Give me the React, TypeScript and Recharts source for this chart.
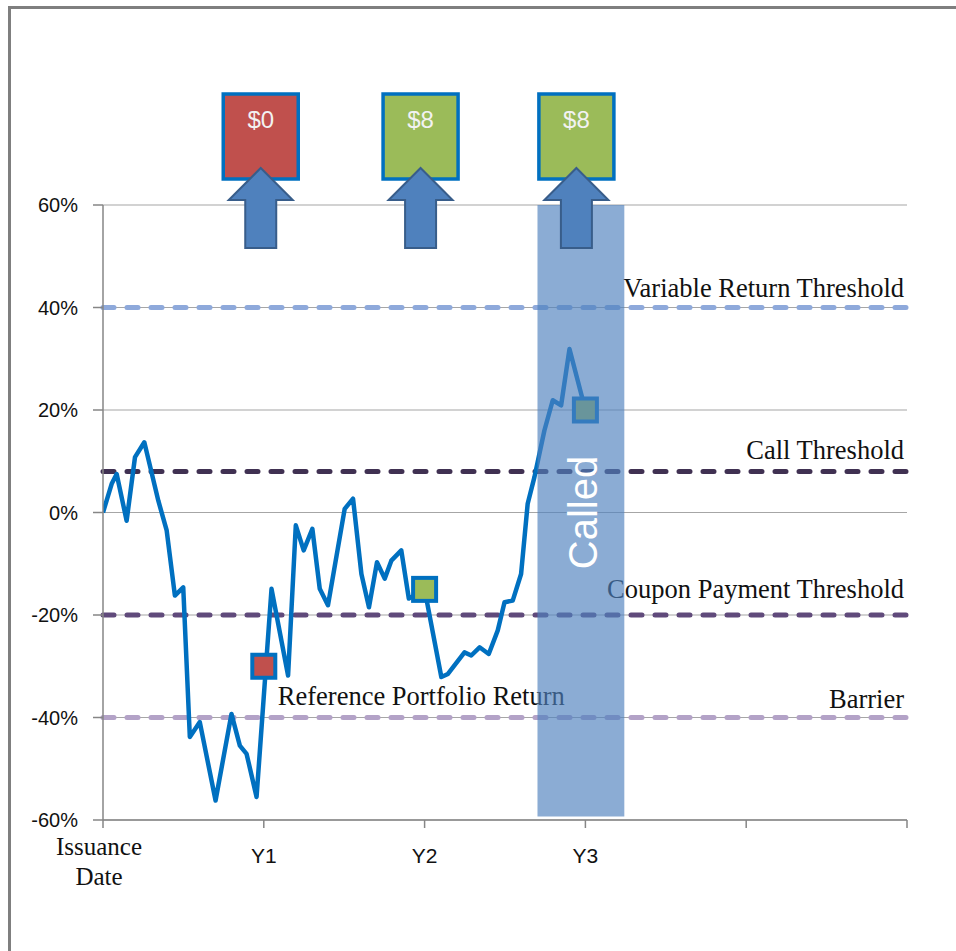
import React from 'react';
import {
  ComposedChart,
  Line,
  Scatter,
  XAxis,
  YAxis,
  CartesianGrid,
  ReferenceLine,
  ReferenceArea,
  ReferenceDot,
} from 'recharts';

// path of the reference portfolio (years since issuance, % return)
const seriesYears = [
  0, 0.054, 0.085, 0.147, 0.199, 0.257, 0.344, 0.396, 0.447, 0.499, 0.54, 0.602, 0.7, 0.799, 0.851, 0.893,
  0.955, 1.048, 1.151, 1.199, 1.248, 1.302, 1.348, 1.399, 1.503, 1.555, 1.607, 1.654, 1.704, 1.752, 1.793,
  1.855, 1.902, 2.0, 2.104, 2.145, 2.248, 2.29, 2.342, 2.399, 2.455, 2.497, 2.548, 2.6, 2.641, 2.683, 2.745,
  2.797, 2.849, 2.901, 3.0,
];
const seriesReturns = [
  0, 5.6, 7.5, -1.6, 10.8, 13.7, 2.3, -3.5, -16.2, -14.6, -43.8, -40.9, -56.2, -39.3, -45.5, -47.1, -55.5,
  -14.9, -31.8, -2.5, -7.4, -3.2, -14.9, -18.1, 0.7, 2.7, -12, -18.5, -9.7, -12.9, -9.4, -7.4, -16.8, -15,
  -32.1, -31.5, -27.3, -27.9, -26.3, -27.6, -23, -17.5, -17.2, -12, 1.7, 6.9, 16, 21.9, 20.9, 31.9, 20,
];

// observation dates
const obsYears = [1, 2, 3];
const obsReturns = [-30, -15, 20];
const obsColors = ['#C0504D', '#9BBB59', '#9BBB59'];

// coupon boxes above the plot
const couponYears = [0.981, 1.975, 2.944];
const couponLabels = ['$0', '$8', '$8'];
const couponColors = ['#C0504D', '#9BBB59', '#9BBB59'];

// thresholds
const thresholdValues = [40, 8, -20, -40];
const thresholdNames = ['Variable Return Threshold', 'Call Threshold', 'Coupon Payment Threshold', 'Barrier'];
const thresholdColors = ['#8EA9DB', '#403152', '#604A7B', '#B3A2C7'];
const labelLift = [11, 13, 17, 10];

const calledFrom = 2.702;
const calledTo = 3.242;
const calledBottom = -59.3;

const yTicks = [-60, -40, -20, 0, 20, 40, 60];
const xTicks = [0, 1, 2, 3, 4, 5];
const xTickNames = ['Issuance Date', 'Y1', 'Y2', 'Y3', '', ''];

const serif = '"Liberation Serif", "Times New Roman", serif';
const sans = '"Liberation Sans", Arial, sans-serif';

const lineData = seriesYears.map((x, i) => ({ x, y: seriesReturns[i] }));
const obsData = obsYears.map((x, i) => ({ x, y: obsReturns[i], fill: obsColors[i] }));

function XTick(props: any) {
  const { x, y, payload } = props;
  const i = xTicks.indexOf(payload.value);
  const name = xTickNames[i] || '';
  if (!name) return null;
  if (i === 0) {
    return (
      <text x={x} y={y} textAnchor="middle" fontFamily={serif} fontSize={25} fill="#111">
        <tspan x={x - 4} dy={25}>Issuance</tspan>
        <tspan x={x - 4} dy={30}>Date</tspan>
      </text>
    );
  }
  return (
    <text x={x} y={y + 33} textAnchor="middle" fontFamily={sans} fontSize={21} fill="#111">
      {name}
    </text>
  );
}

function CouponShape(i: number) {
  return (props: any) => {
    const { cx, cy } = props;
    const tip = cy - 37;
    const base = cy - 5;
    const bottom = cy + 43;
    const arrow = `M${cx},${tip} L${cx + 32},${base} L${cx + 15.5},${base} L${cx + 15.5},${bottom} L${cx - 15.5},${bottom} L${cx - 15.5},${base} L${cx - 32},${base} Z`;
    return (
      <g>
        <rect x={cx - 37.5} y={cy - 111} width={75} height={85} fill={couponColors[i]} stroke="#0070C0" strokeWidth={3.5} />
        <text x={cx} y={cy - 77} textAnchor="middle" fontFamily={sans} fontSize={24} fill="#F2F2F2">
          {couponLabels[i]}
        </text>
        <path d={arrow} fill="#4F81BD" stroke="#385D8A" strokeWidth={2} />
      </g>
    );
  };
}

export default function App() {
  return (
    <div style={{ position: 'absolute', left: 0, top: 0, width: 956, height: 951, background: '#fff' }}>
      <div
        style={{
          position: 'absolute',
          left: 8,
          top: 6,
          width: 948,
          height: 945,
          borderLeft: '3px solid #7F7F7F',
          borderTop: '3px solid #7F7F7F',
        }}
      />
      <div style={{ position: 'absolute', left: 0, top: 0 }}>
        <ComposedChart width={956} height={951} margin={{ top: 205, right: 49, bottom: 51, left: 33 }}>
          <CartesianGrid horizontal vertical={false} stroke="#A6A6A6" strokeWidth={1.2} />
          <XAxis
            type="number"
            dataKey="x"
            domain={[0, 5]}
            ticks={xTicks}
            interval={0}
            height={80}
            tickSize={8}
            stroke="#868686"
            strokeWidth={1.5}
            tick={<XTick />}
            allowDataOverflow
          />
          <YAxis
            type="number"
            dataKey="y"
            domain={[-60, 60]}
            ticks={yTicks}
            width={70}
            tickSize={10}
            tickMargin={15}
            stroke="#868686"
            strokeWidth={1.5}
            tick={{ fontFamily: sans, fontSize: 20, fill: '#111' }}
            tickFormatter={(v) => `${v}%`}
            allowDataOverflow
          />
          {thresholdValues.map((v, i) => (
            <ReferenceLine
              key={thresholdNames[i]}
              y={v}
              stroke={thresholdColors[i]}
              strokeWidth={5}
              strokeDasharray="11 13"
              strokeLinecap="round"
              label={(p: any) => {
                const vb = p.viewBox || {};
                return (
                  <text
                    x={vb.x + vb.width - 3}
                    y={vb.y - labelLift[i]}
                    textAnchor="end"
                    fontFamily={serif}
                    fontSize={26.5}
                    fill="#111"
                  >
                    {thresholdNames[i]}
                  </text>
                );
              }}
            />
          ))}
          <Line
            data={lineData}
            dataKey="y"
            type="linear"
            stroke="#0070C0"
            strokeWidth={4.5}
            strokeLinejoin="round"
            dot={false}
            activeDot={false}
            isAnimationActive={false}
          />
          <Scatter
            data={obsData}
            dataKey="y"
            isAnimationActive={false}
            shape={(p: any) => (
              <rect
                x={p.cx - 11.5}
                y={p.cy - 11.5}
                width={23}
                height={23}
                fill={p.payload.fill}
                stroke="#0070C0"
                strokeWidth={4}
              />
            )}
          />
          <ReferenceDot
            x={1.087}
            y={-37.5}
            r={0}
            ifOverflow="visible"
            shape={(p: any) => (
              <text x={p.cx} y={p.cy} fontFamily={serif} fontSize={26.5} fill="#111">
                Reference Portfolio Return
              </text>
            )}
          />
          <ReferenceArea
            x1={calledFrom}
            x2={calledTo}
            y1={calledBottom}
            y2={60}
            fill="#4F81BD"
            fillOpacity={0.66}
            stroke="none"
            zIndex={2500}
            ifOverflow="visible"
          />
          <ReferenceDot
            x={(calledFrom + calledTo) / 2}
            y={0}
            r={0}
            ifOverflow="visible"
            zIndex={2600}
            shape={(p: any) => (
              <text
                x={p.cx + 16}
                y={p.cy}
                transform={`rotate(-90 ${p.cx + 16} ${p.cy})`}
                textAnchor="middle"
                fontFamily={sans}
                fontSize={40}
                fill="#FFFFFF"
              >
                Called
              </text>
            )}
          />
          {couponYears.map((x, i) => (
            <ReferenceDot
              key={'c' + i}
              x={x}
              y={60}
              r={0}
              ifOverflow="visible"
              zIndex={2600}
              shape={CouponShape(i)}
            />
          ))}
        </ComposedChart>
      </div>
    </div>
  );
}
